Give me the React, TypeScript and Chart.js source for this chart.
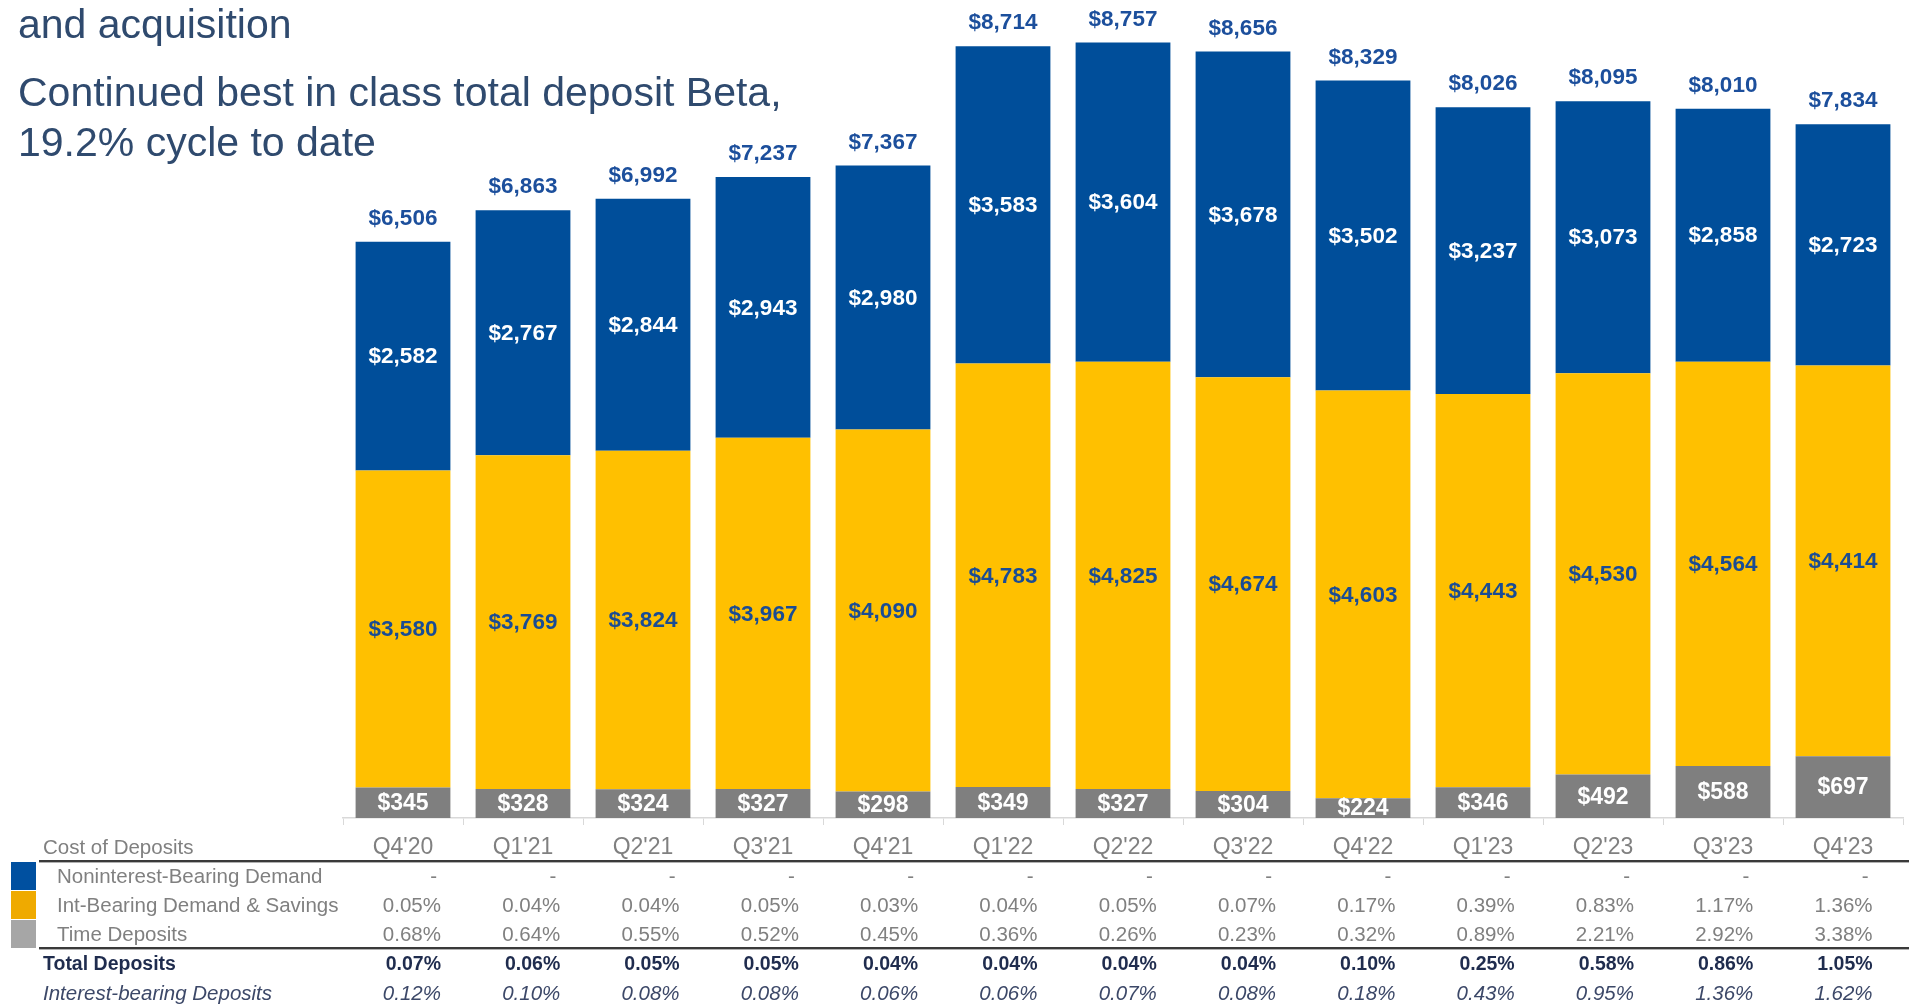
import React, { useEffect, useRef } from "react";
import { Chart, registerables } from "chart.js";

Chart.register(...registerables);

const categories = ["Q4'20", "Q1'21", "Q2'21", "Q3'21", "Q4'21", "Q1'22", "Q2'22", "Q3'22", "Q4'22", "Q1'23", "Q2'23", "Q3'23", "Q4'23"];
const timeDeposits = [345, 328, 324, 327, 298, 349, 327, 304, 224, 346, 492, 588, 697];
const intBearingDeposits = [3580, 3769, 3824, 3967, 4090, 4783, 4825, 4674, 4603, 4443, 4530, 4564, 4414];
const nonInterestDeposits = [2582, 2767, 2844, 2943, 2980, 3583, 3604, 3678, 3502, 3237, 3073, 2858, 2723];
const totalDeposits = [6506, 6863, 6992, 7237, 7367, 8714, 8757, 8656, 8329, 8026, 8095, 8010, 7834];

const costNonInterest: (number | null)[] = [null, null, null, null, null, null, null, null, null, null, null, null, null];
const costIntBearing = [0.05, 0.04, 0.04, 0.05, 0.03, 0.04, 0.05, 0.07, 0.17, 0.39, 0.83, 1.17, 1.36];
const costTime = [0.68, 0.64, 0.55, 0.52, 0.45, 0.36, 0.26, 0.23, 0.32, 0.89, 2.21, 2.92, 3.38];
const costTotal = [0.07, 0.06, 0.05, 0.05, 0.04, 0.04, 0.04, 0.04, 0.10, 0.25, 0.58, 0.86, 1.05];
const costInterestBearing = [0.12, 0.10, 0.08, 0.08, 0.06, 0.06, 0.07, 0.08, 0.18, 0.43, 0.95, 1.36, 1.62];

const FONT = '"Liberation Sans", Arial, sans-serif';
const BLUE = "#004E9A";
const YELLOW = "#FFC000";
const GRAY = "#7F7F7F";

const fmtMoney = (v: number) => "$" + v.toLocaleString("en-US");
const fmtPct = (v: number | null) => (v === null ? "-" : v.toFixed(2) + "%");

export default function App() {
  const ref = useRef<HTMLCanvasElement>(null);

  useEffect(() => {
    document.body.style.margin = "0";
    const canvas = ref.current!;

    const labelPlugin = {
      id: "segLabels",
      afterDatasetsDraw(chart: any) {
        const ctx = chart.ctx as CanvasRenderingContext2D;
        ctx.save();
        ctx.textAlign = "center";
        ctx.textBaseline = "middle";
        const styles = [
          { font: `bold 23px ${FONT}`, color: "#FFFFFF" },
          { font: `bold 22.5px ${FONT}`, color: "#1A4C94" },
          { font: `bold 22.5px ${FONT}`, color: "#FFFFFF" },
        ];
        chart.data.datasets.forEach((ds: any, di: number) => {
          const meta = chart.getDatasetMeta(di);
          meta.data.forEach((el: any, i: number) => {
            const p = el.getProps(["x", "y", "base"], true);
            ctx.font = styles[di].font;
            ctx.fillStyle = styles[di].color;
            ctx.fillText(fmtMoney(ds.data[i]), p.x, (p.y + p.base) / 2 + 1);
          });
        });
        const topMeta = chart.getDatasetMeta(2);
        ctx.font = `bold 22.5px ${FONT}`;
        ctx.fillStyle = "#1C4F9C";
        topMeta.data.forEach((el: any, i: number) => {
          const p = el.getProps(["x", "y"], true);
          ctx.fillText(fmtMoney(totalDeposits[i]), p.x, p.y - 23);
        });
        ctx.restore();
      },
    };

    const tablePlugin = {
      id: "costTable",
      afterDraw(chart: any) {
        const ctx = chart.ctx as CanvasRenderingContext2D;
        const xs = chart.scales.x;
        ctx.save();
        ctx.textBaseline = "middle";

        ctx.font = `20.5px ${FONT}`;
        ctx.fillStyle = "#808080";
        ctx.textAlign = "left";
        ctx.fillText("Cost of Deposits", 43, 848);

        ctx.fillStyle = "#0050A0";
        ctx.fillRect(11, 862, 25, 28);
        ctx.fillStyle = "#EFAA00";
        ctx.fillRect(11, 891, 25, 28);
        ctx.fillStyle = "#A6A6A6";
        ctx.fillRect(11, 920, 25, 28);

        const drawRule = (y: number) => {
          ctx.fillStyle = "#3A3A3A";
          ctx.fillRect(39, y, 1870, 2);
          ctx.fillStyle = "#B0B0B0";
          ctx.fillRect(39, y + 2, 1870, 1);
        };
        drawRule(860);
        drawRule(947);

        const rows = [
          { label: "Noninterest-Bearing Demand", values: costNonInterest, y: 877, indent: 57, font: `20.5px ${FONT}`, color: "#808080" },
          { label: "Int-Bearing Demand & Savings", values: costIntBearing, y: 906, indent: 57, font: `20.5px ${FONT}`, color: "#808080" },
          { label: "Time Deposits", values: costTime, y: 935, indent: 57, font: `20.5px ${FONT}`, color: "#808080" },
          { label: "Total Deposits", values: costTotal, y: 965, indent: 43, font: `bold 19.5px ${FONT}`, color: "#1F2C4E" },
          { label: "Interest-bearing Deposits", values: costInterestBearing, y: 994, indent: 43, font: `italic 20.5px ${FONT}`, color: "#3C4868" },
        ];
        rows.forEach((r) => {
          ctx.font = r.font;
          ctx.fillStyle = r.color;
          ctx.textAlign = "left";
          ctx.fillText(r.label, r.indent, r.y);
          ctx.textAlign = "right";
          r.values.forEach((v: number | null, i: number) => {
            const right = xs.getPixelForValue(i) + 38 - 0.7 * i;
            ctx.fillText(fmtPct(v), v === null ? right - 4 : right, r.y);
          });
        });
        ctx.restore();
      },
    };

    const chart = new Chart(canvas, {
      type: "bar",
      data: {
        labels: categories,
        datasets: [
          { label: "Time Deposits", data: timeDeposits, backgroundColor: GRAY },
          { label: "Int-Bearing Demand & Savings", data: intBearingDeposits, backgroundColor: YELLOW },
          { label: "Noninterest-Bearing Demand", data: nonInterestDeposits, backgroundColor: BLUE },
        ],
      },
      options: {
        responsive: false,
        animation: false,
        layout: { padding: { left: 343, right: 6, top: 21, bottom: 0 } },
        datasets: { bar: { categoryPercentage: 1, barPercentage: 0.79 } },
        plugins: { legend: { display: false }, tooltip: { enabled: false }, title: { display: false } },
        scales: {
          x: {
            stacked: true,
            afterFit: (scale: any) => {
              scale.height = 188;
            },
            grid: { display: true, drawOnChartArea: false, drawTicks: true, tickLength: 7, color: "#D9D9D9", offset: true },
            border: { display: true, color: "#D9D9D9", width: 1.5 },
            ticks: { color: "#808080", font: { family: FONT, size: 23 }, padding: 9, maxRotation: 0, autoSkip: false },
          },
          y: {
            stacked: true,
            display: false,
            min: 0,
            max: 9000,
          },
        },
      },
      plugins: [labelPlugin, tablePlugin],
    });
    return () => chart.destroy();
  }, []);

  const titleStyle: React.CSSProperties = {
    position: "absolute",
    left: 18,
    font: `41px ${FONT}`,
    lineHeight: "41px",
    color: "#2F4A6E",
    whiteSpace: "nowrap",
  };

  return (
    <div style={{ position: "relative", width: 1909, height: 1006, background: "#FFFFFF", overflow: "hidden" }}>
      <canvas ref={ref} width={1909} height={1006} style={{ position: "absolute", left: 0, top: 0 }} />
      <div style={{ ...titleStyle, top: 4 }}>and acquisition</div>
      <div style={{ ...titleStyle, top: 72 }}>Continued best in class total deposit Beta,</div>
      <div style={{ ...titleStyle, top: 122 }}>19.2% cycle to date</div>
    </div>
  );
}
